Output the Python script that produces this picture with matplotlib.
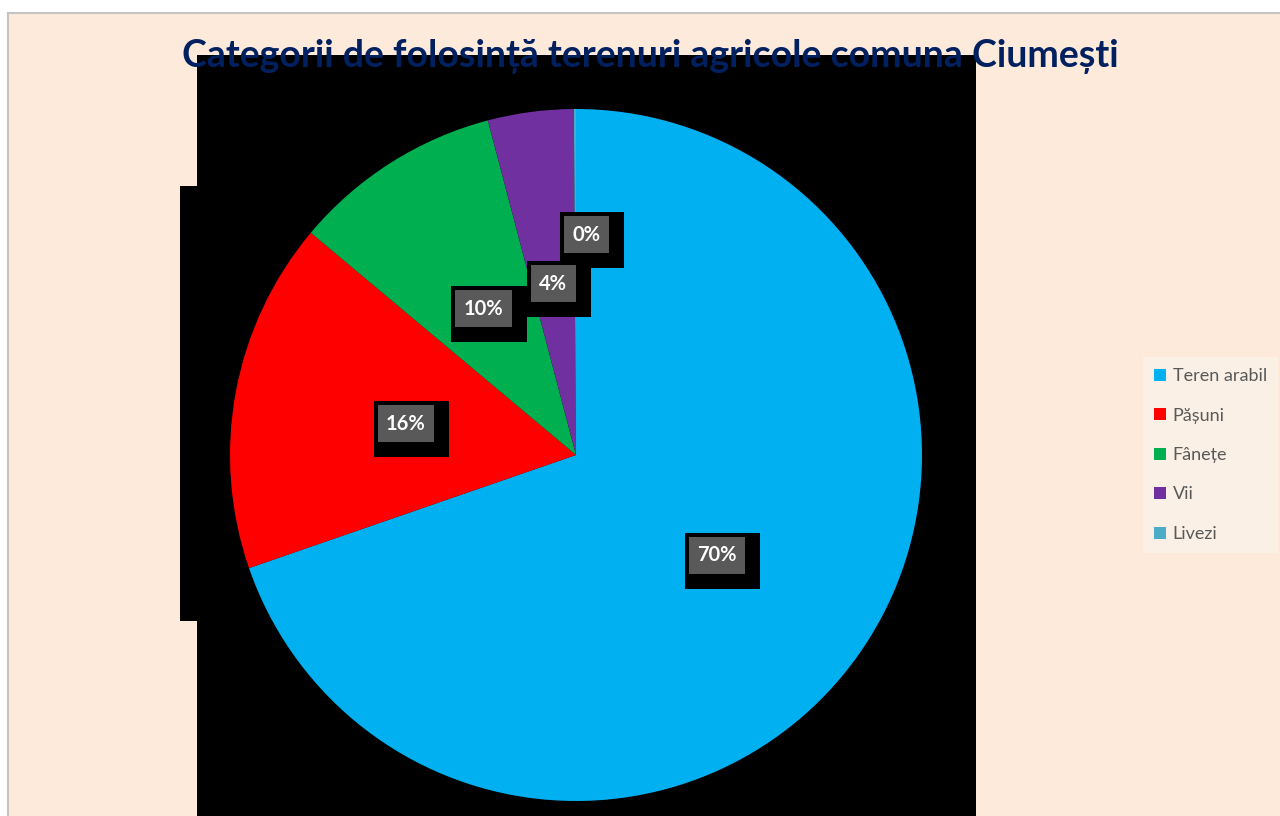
import numpy as np
import matplotlib.pyplot as plt
from matplotlib.patches import Rectangle, Patch

# ____________________________________________________DATA___________________________________________________________ #
categories = ['Teren arabil', 'Pășuni', 'Fânețe', 'Vii', 'Livezi']
shares = [69.7, 16.4, 9.8, 4.0, 0.1]           # percent of agricultural land
colors = ['#00B0F0', '#FF0000', '#00B050', '#7030A0', '#4BACC6']
title = 'Categorii de folosință terenuri agricole comuna Ciumești'

# label placement (fraction of radius) and small pixel nudges, like Excel moved them
label_r = [0.5, 0.5, 0.5, 0.5, 0.637]
label_dx = [0, 0, 0, 0, 11]

W, H = 1280, 816
bg = '#FDEADA'

plt.rcParams['font.family'] = ['Lato', 'DejaVu Sans']

fig = plt.figure(figsize=(W / 100, H / 100), dpi=100)
fig.patch.set_facecolor('white')

# chart area with thin grey border (top/left visible only)
fig.patches.append(Rectangle((8 / W, -0.05), 1.2, (H - 13) / H + 0.05, transform=fig.transFigure,
                             facecolor=bg, edgecolor='#C4C4C4', linewidth=1.5, zorder=0))
# black blocks behind the plot area
fig.patches.append(Rectangle((197 / W, 0), 779 / W, (H - 55) / H, transform=fig.transFigure,
                             facecolor='black', edgecolor='none', zorder=0.5))
fig.patches.append(Rectangle((180 / W, 195 / H), 17 / W, 435 / H, transform=fig.transFigure,
                             facecolor='black', edgecolor='none', zorder=0.5))

# ____________________________________________________PIE____________________________________________________________ #
cx, cy, R = 576, 455, 346
ax = fig.add_axes([(cx - R) / W, (H - cy - R) / H, 2 * R / W, 2 * R / H])
ax.set_zorder(2)
ax.patch.set_alpha(0)
wedges, _ = ax.pie(shares, colors=colors, startangle=90, counterclock=False, radius=1,
                   wedgeprops=dict(linewidth=0))
ax.set_xlim(-1, 1)
ax.set_ylim(-1, 1)
ax.set_aspect('auto')
ax.axis('off')

total = sum(shares)
cum = np.cumsum(shares)
labels = []
for i, v in enumerate(shares):
    ang = np.radians(90 - 360 * (cum[i] - v / 2) / total)
    x, y = label_r[i] * np.cos(ang), label_r[i] * np.sin(ang)
    t = ax.annotate('%d%%' % round(v), (x, y), xytext=(label_dx[i], 0), textcoords='offset pixels',
                    ha='center', va='center', fontsize=14.5, fontweight='bold', color='white',
                    bbox=dict(boxstyle='square,pad=0.42', facecolor='#595959', edgecolor='none'), zorder=6)
    labels.append(t)

# black shadow blocks behind each label box (grown 9.5 px, shifted right/down)
fig.canvas.draw()
for t in labels:
    bb = t.get_bbox_patch().get_window_extent()
    ax.add_patch(Rectangle(((bb.x0 - 4) / W, (bb.y0 - 15) / H), (bb.width + 19) / W, (bb.height + 19) / H,
                           transform=fig.transFigure, facecolor='black', edgecolor='none', zorder=5))

# ____________________________________________________TEXT___________________________________________________________ #
fig.text(650 / W, 1 - 57 / H, title, ha='center', va='center', fontsize=27, fontweight='bold',
         color='#002060', zorder=10)

handles = [Patch(facecolor=c, edgecolor='none') for c in colors]
leg = fig.legend(handles, categories, loc='center left', bbox_to_anchor=(1143 / W, 1 - 455 / H),
                 frameon=True, facecolor='#FAF0E6', edgecolor='none', fancybox=False,
                 fontsize=13, labelcolor='#595959', handlelength=0.65, handleheight=0.65,
                 handletextpad=0.4, labelspacing=1.3, borderpad=0.6, borderaxespad=0)
leg.get_frame().set_alpha(1)

fig.savefig('out.png', dpi=100, facecolor=fig.get_facecolor())
